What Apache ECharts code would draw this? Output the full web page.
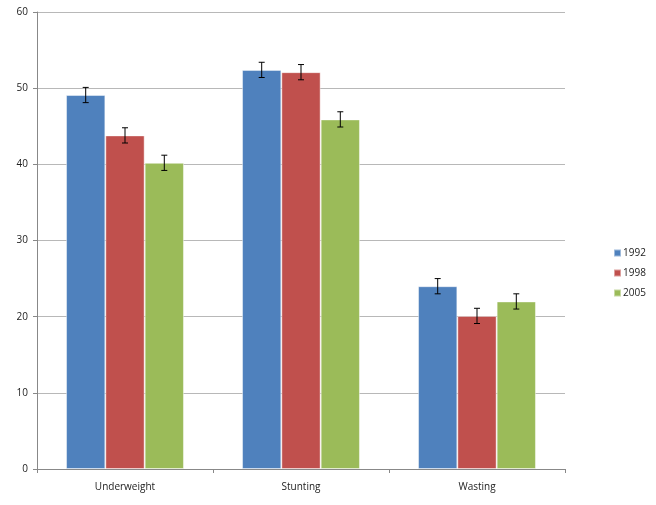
<!DOCTYPE html>
<html style="height: 100%">
<head>
    <meta charset="utf-8">
</head>
<body style="height: 100%; margin: 0; background: #fff">
<div id="container" style="width: 656px; height: 505px"></div>
<script type="text/javascript" src="https://cdn.jsdelivr.net/npm/echarts@6/dist/echarts.min.js"></script>
<script type="text/javascript">
    var categories = ['Underweight', 'Stunting', 'Wasting'];
    var seriesNames = ['1992', '1998', '2005'];
    var colors = ['#4F81BD', '#C0504D', '#9BBB59'];
    var values1992 = [49.1, 52.4, 24.0];
    var values1998 = [43.8, 52.1, 20.1];
    var values2005 = [40.2, 45.9, 22.0];
    var errors1992 = [1.0, 1.0, 1.0];
    var errors1998 = [1.0, 1.0, 1.0];
    var errors2005 = [1.0, 1.0, 1.0];
    var yTicks = [0, 10, 20, 30, 40, 50, 60];

    var allValues = [values1992, values1998, values2005];
    var allErrors = [errors1992, errors1998, errors2005];
    var categoryGap = 0.33;

    var dom = document.getElementById('container');
    var myChart = echarts.init(dom);

    // error bar drawn for series k
    function makeErrorRender(k) {
        return function (params, api) {
            var x = api.value(0);
            var lo = api.coord([x, api.value(1)]);
            var hi = api.coord([x, api.value(2)]);
            var band = api.size([1, 0])[0];
            var barW = band * (1 - categoryGap) / 3;
            var cx = lo[0] + (k - 1) * barW;
            var half = 3;
            var style = { stroke: '#000', lineWidth: 1 };
            return {
                type: 'group',
                children: [
                    { type: 'line', shape: { x1: cx, y1: hi[1], x2: cx, y2: lo[1] }, style: style },
                    { type: 'line', shape: { x1: cx - half, y1: hi[1], x2: cx + half, y2: hi[1] }, style: style },
                    { type: 'line', shape: { x1: cx - half, y1: lo[1], x2: cx + half, y2: lo[1] }, style: style }
                ]
            };
        };
    }

    var series = [];
    for (var k = 0; k < 3; k++) {
        series.push({
            type: 'bar',
            name: seriesNames[k],
            data: allValues[k],
            barGap: '0%',
            barCategoryGap: (categoryGap * 100) + '%',
            itemStyle: { color: colors[k], borderColor: 'rgba(255,255,255,0.45)', borderWidth: 1 },
            animation: false
        });
    }
    for (var k2 = 0; k2 < 3; k2++) {
        var errData = [];
        for (var i = 0; i < categories.length; i++) {
            errData.push([i, allValues[k2][i] - allErrors[k2][i], allValues[k2][i] + allErrors[k2][i]]);
        }
        series.push({
            type: 'custom',
            renderItem: makeErrorRender(k2),
            data: errData,
            encode: { x: 0, y: [1, 2] },
            z: 10,
            silent: true,
            animation: false
        });
    }

    var option = {
        backgroundColor: '#fff',
        textStyle: { fontFamily: 'Open Sans, DejaVu Sans, sans-serif' },
        legend: {
            data: seriesNames,
            orient: 'vertical',
            left: 608,
            top: 243,
            itemWidth: 7,
            itemHeight: 7,
            itemGap: 10,
            icon: 'rect',
            textStyle: { fontSize: 10, color: '#222', padding: [0, 0, 0, -3] }
        },
        grid: {
            left: 37,
            right: 91,
            top: 12,
            bottom: 36
        },
        xAxis: {
            type: 'category',
            data: categories,
            axisLine: { lineStyle: { color: '#888' } },
            axisTick: { show: true, length: 4, lineStyle: { color: '#888' } },
            axisLabel: { fontSize: 10, color: '#222', margin: 13 }
        },
        yAxis: {
            type: 'value',
            min: yTicks[0],
            max: yTicks[yTicks.length - 1],
            interval: 10,
            axisLine: { show: true, lineStyle: { color: '#888' } },
            axisTick: { show: true, length: 4, inside: false, lineStyle: { color: '#888' } },
            axisLabel: { fontSize: 10, color: '#222', margin: 9 },
            splitLine: { lineStyle: { color: '#b8b8b8' } }
        },
        series: series
    };
    myChart.setOption(option, true);
</script>
</body>
</html>
